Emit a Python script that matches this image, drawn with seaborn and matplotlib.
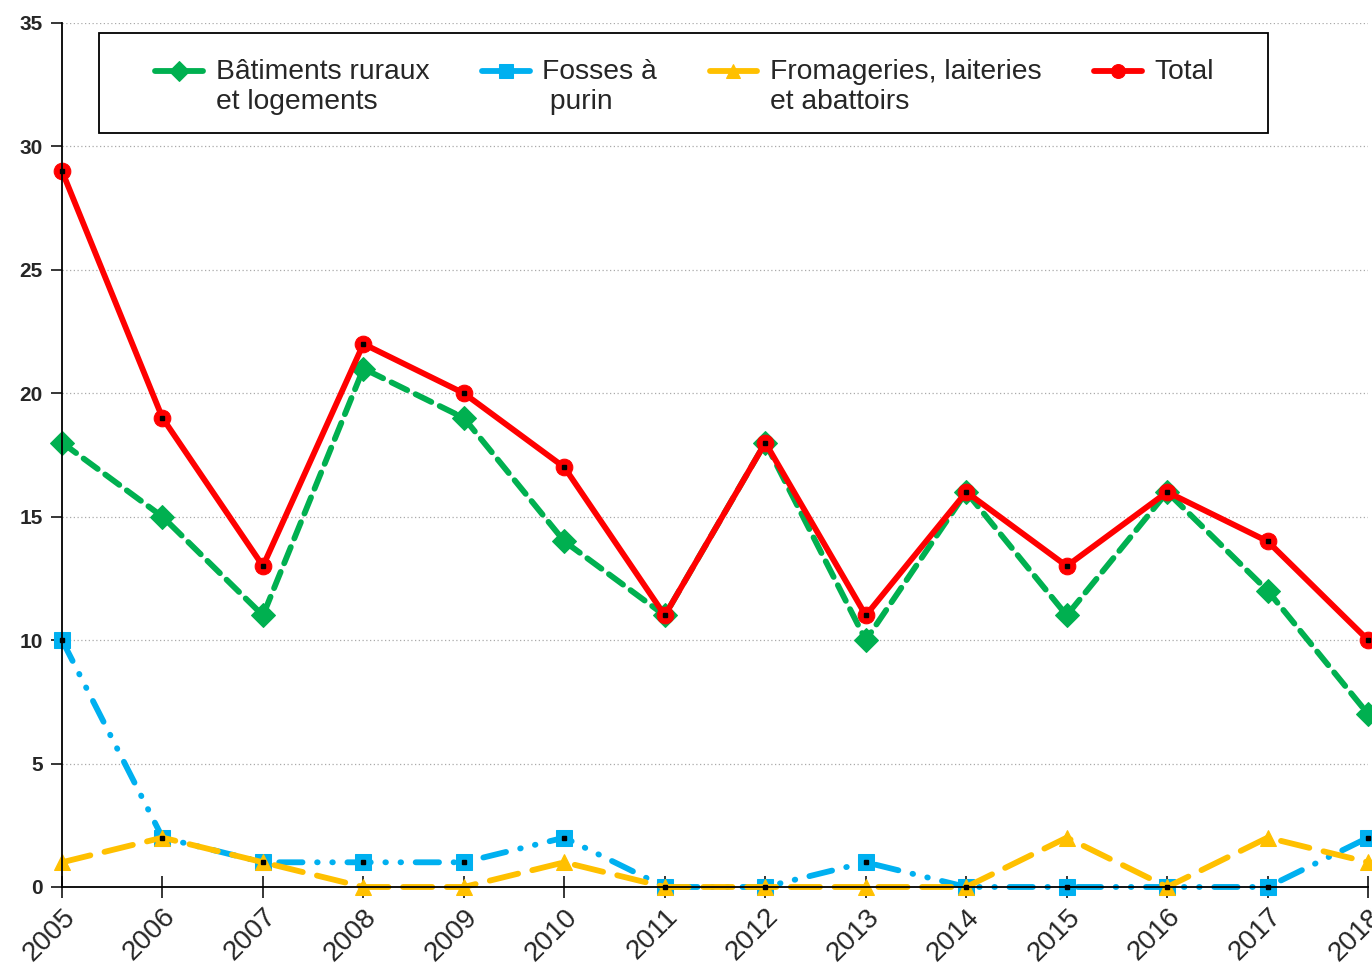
import numpy as np
import pandas as pd
import matplotlib
matplotlib.use("Agg")
import matplotlib.pyplot as plt
from matplotlib.patches import Rectangle
import seaborn as sns

years = list(range(2005, 2019))
batiments = [18, 15, 11, 21, 19, 14, 11, 18, 10, 16, 11, 16, 12, 7]
fosses = [10, 2, 1, 1, 1, 2, 0, 0, 1, 0, 0, 0, 0, 2]
fromageries = [1, 2, 1, 0, 0, 1, 0, 0, 0, 0, 2, 0, 2, 1]
total = [29, 19, 13, 22, 20, 17, 11, 18, 11, 16, 13, 16, 14, 10]

labels = ["Bâtiments ruraux\net logements", "Fosses à\n purin",
          "Fromageries, laiteries\net abattoirs", "Total\n "]

sns.set_style("white")
plt.rcParams["font.family"] = ["Liberation Sans", "DejaVu Sans"]

fig = plt.figure(figsize=(13.72, 9.66), dpi=100)
ax = fig.add_axes([0.0452, 0.0818, 0.952, 0.8944])

series = [
    (batiments, labels[0], "#00B050", "D", (3, 1.6), False),
    (fosses, labels[1], "#00B0F0", "s", (4, 2.5, 0.1, 2.5, 0.1, 2.5), True),
    (fromageries, labels[2], "#FFC000", "^", (5, 2.5), False),
    (total, labels[3], "#FF0000", "o", None, True),
]

for vals, lab, col, mk, dash, dot in series:
    df = pd.DataFrame({"year": years, "v": vals})
    sns.lineplot(data=df, x="year", y="v", ax=ax, color=col, lw=4.2,
                 marker=mk, markersize=12, markeredgecolor=col,
                 markerfacecolor=col, label=lab, clip_on=False,
                 dash_capstyle="round", solid_capstyle="round")
    line = ax.lines[-1]
    if dash is not None:
        line.set_dashes(dash)
    if dot:
        ax.plot(years, vals, ls="none", marker="s", ms=2.5, color="black",
                clip_on=False, zorder=5)

ax.set_xlim(2005, 2018)
ax.set_ylim(0, 35)
ax.set_yticks(range(0, 36, 5))
ax.set_xticks(years)
ax.set_xticklabels([str(y) for y in years], rotation=45, ha="right",
                   rotation_mode="anchor", fontsize=20)
for t in ax.get_yticklabels():
    t.set_fontweight("bold")
    t.set_fontsize(15)
ax.set_xlabel("")
ax.set_ylabel("")
ax.yaxis.grid(True, ls=(0, (1, 2)), color="#aaaaaa", lw=0.9)
ax.xaxis.grid(False)
for s in ["top", "right"]:
    ax.spines[s].set_visible(False)
for s in ["left", "bottom"]:
    ax.spines[s].set_color("black")
    ax.spines[s].set_linewidth(1.3)
ax.tick_params(axis="y", direction="out", length=8, width=1.3, left=True, pad=6)
ax.tick_params(axis="x", direction="inout", length=16, width=1.3, bottom=True, pad=4)

# legend box drawn separately so the horizontal padding can be wider
ax.add_patch(Rectangle((0.0283, 0.8727), 0.8951, 0.1157, transform=ax.transAxes,
                       fill=True, facecolor="white", edgecolor="black", lw=1.3,
                       zorder=9, clip_on=False))
leg = ax.legend(loc="upper left", bbox_to_anchor=(0.0712, 0.958), ncol=4,
                fontsize=20.3, frameon=False,
                handlelength=1.7, handletextpad=0.45, columnspacing=1.86,
                borderpad=0, borderaxespad=0, labelspacing=0.25)
leg.set_zorder(10)
for h in leg.legend_handles:
    h.set_linestyle("-")
    h.set_markersize(10)
for ln in leg.get_lines():
    ln.set_ydata(np.asarray(ln.get_ydata()) + 12)

fig.savefig("out.png", dpi=100)
